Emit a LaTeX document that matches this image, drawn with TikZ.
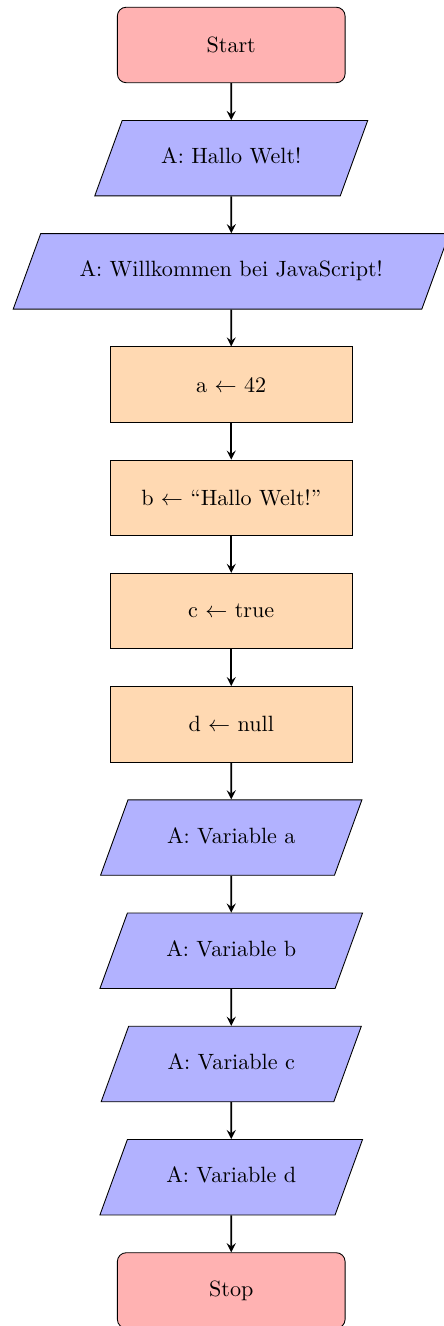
\documentclass[tikz,border=0pt]{standalone}
\usetikzlibrary{shapes.geometric,arrows}

\tikzset{
  startstop/.style={rectangle, rounded corners, minimum width=3.62cm, minimum height=1.2cm, text centered, draw=black, fill=red!30},
  io/.style={trapezium, trapezium left angle=70, trapezium right angle=110, text height=7pt, text depth=2pt, inner ysep=12.57pt, inner xsep=0.62cm, text centered, draw=black, fill=blue!30},
  process/.style={rectangle, minimum width=3.85cm, minimum height=1.2cm, text centered, draw=black, fill=orange!30},
  arrow/.style={thick,->,>=stealth}
}

\begin{document}
\begin{tikzpicture}
  \useasboundingbox (-3.676,0.715) rectangle (3.367,-20.365);
  % Start and output
  \node (start) [startstop] at (0,0) {Start};
  \node (out1) [io] at (0,-1.8) {A: Hallo Welt!};
  \node (out2) [io] at (0,-3.6) {A: Willkommen bei JavaScript!};
  % Assignments
  \node (seta) [process] at (0,-5.4) {a $\leftarrow$ 42};
  \node (setb) [process] at (0,-7.2) {b $\leftarrow$ ``Hallo Welt!''};
  \node (setc) [process] at (0,-9.0) {c $\leftarrow$ true};
  \node (setd) [process] at (0,-10.8) {d $\leftarrow$ null};
  % Output of the variables
  \node (outa) [io] at (0,-12.6) {A: Variable a};
  \node (outb) [io] at (0,-14.4) {A: Variable b};
  \node (outc) [io] at (0,-16.2) {A: Variable c};
  \node (outd) [io] at (0,-18.0) {A: Variable d};
  \node (stop) [startstop] at (0,-19.8) {Stop};
  % Arrows
  \draw [arrow] (start) -- (out1);
  \draw [arrow] (out1) -- (out2);
  \draw [arrow] (out2) -- (seta);
  \draw [arrow] (seta) -- (setb);
  \draw [arrow] (setb) -- (setc);
  \draw [arrow] (setc) -- (setd);
  \draw [arrow] (setd) -- (outa);
  \draw [arrow] (outa) -- (outb);
  \draw [arrow] (outb) -- (outc);
  \draw [arrow] (outc) -- (outd);
  \draw [arrow] (outd) -- (stop);
\end{tikzpicture}
\end{document}
